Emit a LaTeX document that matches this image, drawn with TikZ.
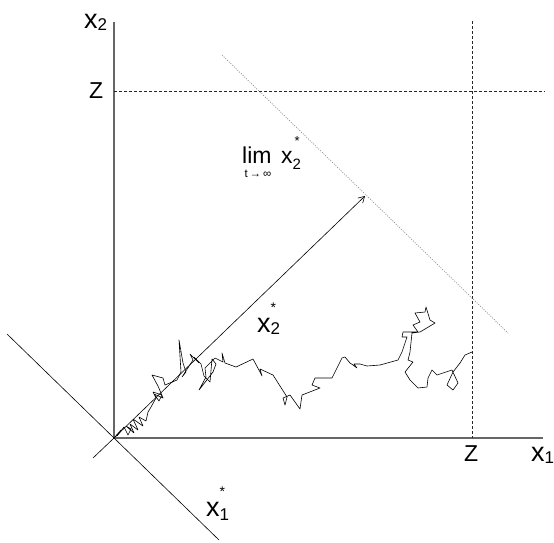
\documentclass[tikz,border=0pt]{standalone}
\usepackage{fontspec}
\setmainfont{Liberation Sans}
\usetikzlibrary{arrows.meta}
\begin{document}
\begin{tikzpicture}[x=1pt,y=-1pt,
  axis/.style={draw=black!60, line width=1.1pt},
  diag/.style={draw=black, line width=0.6pt},
  guide/.style={draw=black!85, line width=0.7pt, dash pattern=on 3pt off 2pt},
  limitline/.style={draw=black!45, line width=0.7pt, dash pattern=on 1pt off 1.4pt},
  walk/.style={draw=black, line width=0.6pt, line join=round},
  lab/.style={inner sep=0pt, anchor=base west},
]
\useasboundingbox (0,0) rectangle (554,542);
% coordinates
\coordinate (O) at (114,438);
\coordinate (Ytop) at (114,22);
\coordinate (Xend) at (543,438);
\coordinate (ZhL) at (114,91);
\coordinate (ZhR) at (545,91);
\coordinate (ZvT) at (472,21);
\coordinate (ZvB) at (472,438);
\coordinate (CrossA) at (7,334);
\coordinate (CrossB) at (219,540);
\coordinate (Tail) at (93,458);
\coordinate (Tip) at (365,196);
\coordinate (LimA) at (222,55);
\coordinate (LimB) at (508,333);
% axes
\draw[axis] (Ytop) -- (O) -- (Xend);
% Z guides
\draw[guide] (ZhL) -- (ZhR);
\draw[guide] (ZvT) -- (ZvB);
% limit line
\draw[limitline] (LimA) -- (LimB);
% diagonals
\draw[diag] (CrossA) -- (CrossB);
\draw[diag] (Tail) -- (O);
\draw[diag, -{Straight Barb[length=6pt,width=7pt]}] (O) -- (Tip);
% random walk
\draw[walk] plot coordinates {(114,438) (121,430) (117,436) (124,427) (128,435) (131,429) (126,426) (134,433) (130,424) (138,430) (133,419) (143,426) (139,417) (146,421) (148,412) (151,407) (156,398) (153,392) (162,395) (159,401) (154,394) (163,398) (158,386) (152,375) (163,378) (165,385) (177,380) (181,372) (179,340) (183,363) (186,372) (182,377) (193,360) (190,354) (199,363) (194,357) (201,364) (204,376) (210,382) (212,359) (216,364) (213,372) (199,390) (206,377) (205,368) (215,358) (223,362) (222,353) (225,363) (236,367) (253,359) (260,372) (262,376) (260,369) (273,375) (287,397) (285,405) (283,398) (290,395) (300,409) (302,395) (320,388) (312,385) (315,378) (332,378) (342,358) (345,357) (350,363) (353,365) (357,368) (354,364) (360,364) (367,366) (380,365) (398,360) (402,352) (407,337) (402,337) (403,332) (418,332) (413,325) (420,322) (415,313) (425,312) (426,307) (430,320) (435,323) (420,332) (412,333) (410,352) (408,360) (413,362) (405,372) (410,380) (418,388) (427,387) (428,378) (432,370) (437,375) (452,370) (458,383) (453,390) (447,385) (453,372) (460,363) (465,355) (472,352)};
% labels
\node[lab] (lx2) at (84,28) {\fontsize{27}{27}\selectfont x\raisebox{-2pt}{\fontsize{17}{17}\selectfont 2}};
\node[lab] (lZl) at (89,98) {\fontsize{23}{23}\selectfont Z};
\node[lab] (lZb) at (464,461) {\fontsize{23}{23}\selectfont Z};
\node[lab] (lx1) at (531,461) {\fontsize{27}{27}\selectfont x\raisebox{-2pt}{\fontsize{17}{17}\selectfont 1}};
\node[lab] (lx2s) at (257,332) {\fontsize{27}{27}\selectfont x\fontsize{17}{17}\selectfont\rlap{\raisebox{20pt}{\fontsize{14}{14}\selectfont *}}\raisebox{-2pt}{2}};
\node[lab] (lx1s) at (206,516) {\fontsize{27}{27}\selectfont x\fontsize{17}{17}\selectfont\rlap{\raisebox{20pt}{\fontsize{14}{14}\selectfont *}}\raisebox{-4pt}{1}};
\node[lab] (llim) at (242,163) {\fontsize{23}{23}\selectfont lim};
\node[inner sep=0pt, anchor=base] (lsub) at (258,177) {\fontsize{11.5}{11.5}\selectfont t\,→\,∞};
\node[lab] (llimx) at (281,163) {\fontsize{23}{23}\selectfont x\fontsize{15}{15}\selectfont\rlap{\raisebox{18pt}{\fontsize{13}{13}\selectfont\hspace{2pt}*}}\raisebox{-6pt}{2}};
\end{tikzpicture}
\end{document}
